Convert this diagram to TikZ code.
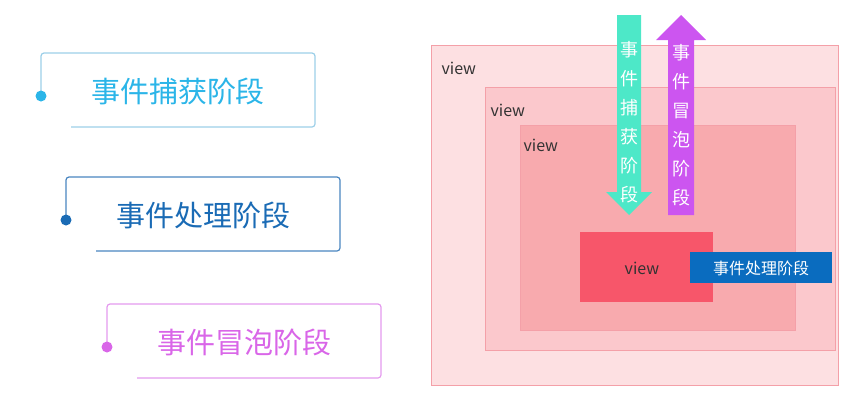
\documentclass[tikz,border=0pt]{standalone}
\usepackage{fontspec}
\setmainfont{Noto Sans CJK SC}
\begin{document}
\begin{tikzpicture}[x=1pt,y=-1pt,
  lbl/.style={font=\fontsize{29}{32}\selectfont},
  vtx/.style={font=\fontsize{18}{29}\selectfont, text=white, align=center},
  vw/.style={font=\fontsize{16}{18}\selectfont, anchor=west, text=black!80}]
\useasboundingbox (0,0) rectangle (847,405);
\definecolor{c1}{HTML}{2BB5E8}\definecolor{c1b}{HTML}{9CCFE8}
\definecolor{c2}{HTML}{1A6BB5}\definecolor{c2b}{HTML}{4A86C0}
\definecolor{c3}{HTML}{D966E8}\definecolor{c3b}{HTML}{E49AEE}
\definecolor{r1}{HTML}{FDE0E2}\definecolor{r2}{HTML}{FBC8CC}
\definecolor{r3}{HTML}{F8AAAE}\definecolor{r4}{HTML}{F7566A}
\definecolor{rb}{HTML}{F4A0A8}
\definecolor{blu}{HTML}{0A6CBF}\definecolor{grn}{HTML}{4DE8C8}\definecolor{pur}{HTML}{CC55F0}
% left boxes
\foreach \x/\y/\c/\b/\t [count=\i] in {41/53/c1/c1b/事件捕获阶段,66/177/c2/c2b/事件处理阶段,107/304/c3/c3b/事件冒泡阶段}{
  \draw[\b, line width=1.2pt, rounded corners=3pt] (\x,\y+43) -- (\x,\y) -- (\x+274,\y) -- (\x+274,\y+74) -- (\x+30,\y+74);
  \fill[\c] (\x,\y+43) circle (5.5);
  \node[lbl, text=\c] (t\i) at (\x+137,\y+38) {\t};
}
% nested views
\draw[rb, fill=r1] (431,45) rectangle (838,385);
\node[vw] (v1) at (438,68) {view};
\draw[rb, fill=r2] (485,87) rectangle (835,350);
\node[vw] (v2) at (487,110) {view};
\draw[rb, fill=r3] (520,125) rectangle (795,330);
\node[vw] (v3) at (520,145) {view};
\fill[r4] (580,232) rectangle (713,302);
\node[vw, anchor=center] (v4) at (642,268) {view};
\fill[blu] (690,252) rectangle (832,283);
\node[font=\fontsize{16}{18}\selectfont, text=white] (proc) at (761,268) {事件处理阶段};
% arrows
\fill[grn] (617,15) -- (641,15) -- (641,192) -- (652,192) -- (629,215) -- (606,192) -- (617,192) -- cycle;
\node[vtx] (cap) at (629,122) {事\\件\\捕\\获\\阶\\段};
\fill[pur] (668,215) -- (694,215) -- (694,40) -- (706,40) -- (681,15) -- (656,40) -- (668,40) -- cycle;
\node[vtx] (bub) at (681,125) {事\\件\\冒\\泡\\阶\\段};
\end{tikzpicture}
\end{document}
